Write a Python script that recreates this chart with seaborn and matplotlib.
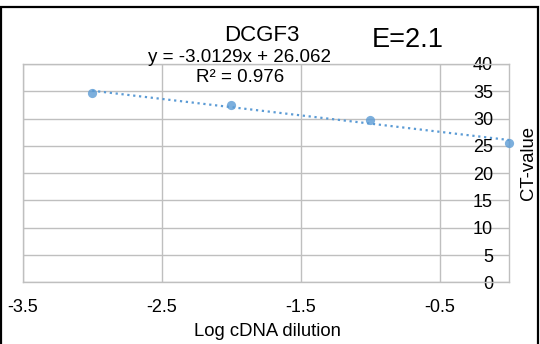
#!/usr/bin/python3

from matplotlib import pyplot as plt
from matplotlib.patches import Rectangle
import seaborn as sns

# log dilution vs CT value
log_dilution = [-3, -2, -1, 0]
ct_value = [34.7, 32.4, 29.7, 25.55]

x_ticks = [-3.5, -2.5, -1.5, -0.5]
y_ticks = [0, 5, 10, 15, 20, 25, 30, 35, 40]

title = 'DCGF3'
equation = 'y = -3.0129x + 26.062'
r_squared = 'R² = 0.976'
efficiency = 'E=2.1'

BLUE = '#5B9BD5'
GRID = '#BFBFBF'
W, H = 540, 344
FS = 13


def px(x, y):
    # pixel coords (from top-left) -> figure fraction
    return x / W, 1 - y / H


sns.set_theme(style='white')
plt.rcParams['font.family'] = ['Liberation Sans', 'DejaVu Sans']
plt.rcParams['text.color'] = 'black'

fig = plt.figure(figsize=(W / 100, H / 100), dpi=100)
ax = fig.add_axes([22.7 / W, 1 - 282.3 / H, (509.3 - 22.7) / W, (282.3 - 64) / H])

sns.regplot(x=log_dilution, y=ct_value, ci=None, ax=ax,
            scatter_kws=dict(s=44, color=BLUE, zorder=4, clip_on=False, linewidths=0),
            line_kws=dict(ls=':', lw=1.6, color=BLUE, zorder=3))

ax.set_xlim(-3.5, 0)
ax.set_ylim(0, 40)
ax.set_xticks(x_ticks)
ax.set_xticklabels([str(v) for v in x_ticks])
ax.set_yticks(y_ticks)
ax.set_yticklabels([str(v) for v in y_ticks])

ax.grid(True, color=GRID, lw=1)
ax.set_axisbelow(True)
for s in ax.spines.values():
    s.set_color(GRID)
    s.set_linewidth(1)

ax.tick_params(axis='x', length=0, pad=12, labelsize=FS, colors='black')
ax.tick_params(axis='y', length=0, left=False, labelleft=False,
               right=True, labelright=True, pad=-11.7, labelsize=FS, colors='black')
for lbl in ax.get_yticklabels():
    lbl.set_horizontalalignment('right')

ax.set_xlabel('')
ax.set_ylabel('')

fig.text(*px(262, 40.8), title, ha='center', va='baseline', fontsize=16)
fig.text(*px(240, 62.3), equation, ha='center', va='baseline', fontsize=13.5)
fig.text(*px(240, 81.7), r_squared, ha='center', va='baseline', fontsize=13.5)
fig.text(*px(408, 47.4), efficiency, ha='center', va='baseline', fontsize=19.5)
fig.text(*px(267, 336), 'Log cDNA dilution', ha='center', va='baseline', fontsize=13.3)
fig.text(*px(529, 163), 'CT-value', ha='center', va='center', rotation=90, fontsize=13.3)

# outer chart frame
fig.patches.append(Rectangle(px(1, 400), (538 - 1) / W, (400 - 7) / H,
                             transform=fig.transFigure, fill=False,
                             edgecolor='black', lw=1.6))

fig.savefig('out.png', dpi=100)
plt.close(fig)
